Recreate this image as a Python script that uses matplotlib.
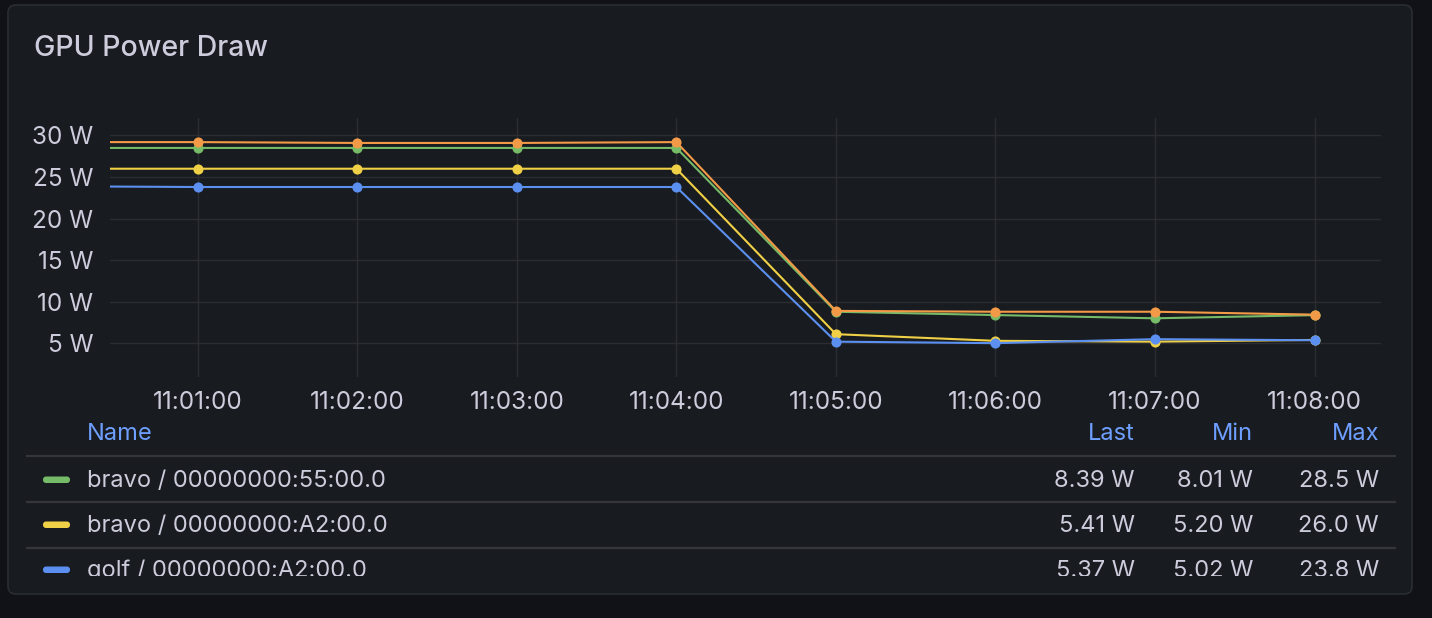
import numpy as np
import pandas as pd
import matplotlib
matplotlib.use("Agg")
import matplotlib.pyplot as plt
import matplotlib.dates as mdates
from matplotlib.patches import FancyBboxPatch, Rectangle

plt.rcParams["font.family"] = ["Inter", "DejaVu Sans"]

# ---------------------------------------------------------------
# data
# ---------------------------------------------------------------
times = pd.to_datetime(["2024-01-01 11:00:00", "2024-01-01 11:01:00", "2024-01-01 11:02:00",
                        "2024-01-01 11:03:00", "2024-01-01 11:04:00", "2024-01-01 11:05:00",
                        "2024-01-01 11:06:00", "2024-01-01 11:07:00", "2024-01-01 11:08:00"])

names = ["bravo / 00000000:55:00.0", "bravo / 00000000:A2:00.0", "golf / 00000000:A2:00.0"]
green = [28.5, 28.5, 28.5, 28.5, 28.5, 8.8, 8.4, 8.01, 8.39]
yellow = [26.0, 26.0, 26.0, 26.0, 26.0, 6.1, 5.3, 5.20, 5.41]
blue = [23.9, 23.8, 23.8, 23.8, 23.8, 5.2, 5.02, 5.5, 5.37]
orange = [29.2, 29.2, 29.1, 29.1, 29.2, 8.9, 8.8, 8.8, 8.45]
series = [green, yellow, blue, orange]
colors = ["#76bb68", "#f0d046", "#5c90f0", "#f39a48"]

legend_last = ["8.39 W", "5.41 W", "5.37 W"]
legend_min = ["8.01 W", "5.20 W", "5.02 W"]
legend_max = ["28.5 W", "26.0 W", "23.8 W"]

y_ticks = [5, 10, 15, 20, 25, 30]

# ---------------------------------------------------------------
W, H = 1432, 618
page_bg = "#111217"
panel_bg = "#181b1f"
text_col = "#ccccdc"
head_col = "#6e9fff"
grid_col = "#2b2d32"

fig = plt.figure(figsize=(W / 100, H / 100), dpi=100)
fig.patch.set_facecolor(page_bg)

# background layer in pixel coordinates
bg = fig.add_axes([0, 0, 1, 1], zorder=0)
bg.set_xlim(0, W)
bg.set_ylim(H, 0)
bg.axis("off")

bg.add_patch(FancyBboxPatch((8, 5), 1404, 589, boxstyle="round,pad=0,rounding_size=8",
                            facecolor=panel_bg, edgecolor="#2a2d33", linewidth=1.2))
bg.text(34, 49, "GPU Power Draw", color=text_col, fontsize=20.5, fontweight="medium",
        va="center", ha="left")

# legend table
fs = 17
bg.text(87, 434, "Name", color=head_col, fontsize=fs, va="center", ha="left")
col_x = [1135, 1253, 1379]
for x, lab in zip(col_x, ["Last", "Min", "Max"]):
    bg.text(x, 434, lab, color=head_col, fontsize=fs, va="center", ha="right")

sep_y = [456, 502, 548]
row_y = [481, 526, 571]
for y in sep_y:
    bg.plot([26, 1396], [y, y], color="#34363c", linewidth=1.6, solid_capstyle="butt")

for i, y in enumerate(row_y):
    bg.add_patch(FancyBboxPatch((43, y - 4.5), 27, 6.5, boxstyle="round,pad=0,rounding_size=3",
                                facecolor=colors[i], edgecolor="none"))
    bg.text(87, y, names[i], color=text_col, fontsize=fs, va="center", ha="left")
    for x, vals in zip(col_x, [legend_last, legend_min, legend_max]):
        bg.text(x, y, vals[i], color=text_col, fontsize=fs, va="center", ha="right")

# legend is cut off by the panel's bottom edge
bg.add_patch(Rectangle((10, 576), 1400, 16, facecolor=panel_bg, edgecolor="none", zorder=5))

# ---------------------------------------------------------------
# time series
# ---------------------------------------------------------------
ax = fig.add_axes([110 / W, 1 - 377 / H, (1381 - 110) / W, (377 - 118) / H], zorder=1)
ax.set_facecolor("none")

for vals, c in zip(series, colors):
    ax.plot(times, vals, color=c, linewidth=1.5, marker="o", markersize=7.3,
            markeredgewidth=0, clip_on=True)

ax.set_xlim(pd.Timestamp("2024-01-01 11:00:27"), pd.Timestamp("2024-01-01 11:08:25"))
ax.set_ylim(0.95, 32.1)
ax.set_yticks(y_ticks)
ax.set_yticklabels([f"{v} W" for v in y_ticks])
ax.xaxis.set_major_locator(mdates.MinuteLocator())
ax.xaxis.set_major_formatter(mdates.DateFormatter("%H:%M:%S"))

for s in ax.spines.values():
    s.set_visible(False)
ax.tick_params(axis="both", length=0, colors=text_col, labelsize=17.5)
ax.tick_params(axis="y", pad=12)
ax.tick_params(axis="x", pad=10)
ax.grid(True, color=grid_col, linewidth=1)
ax.set_axisbelow(True)

plt.savefig("out.png", dpi=100, facecolor=page_bg)
